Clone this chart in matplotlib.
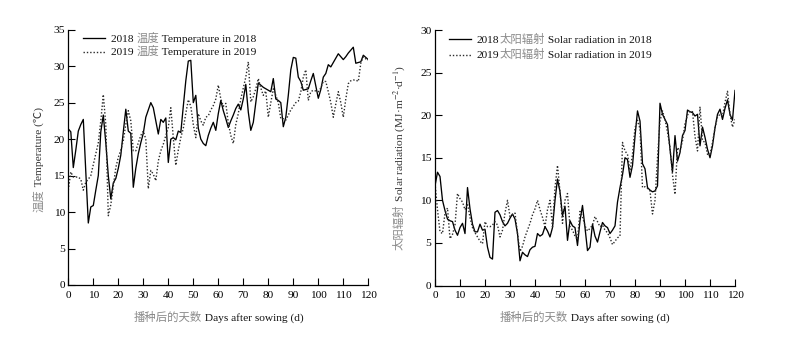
import matplotlib
matplotlib.use("Agg")
import matplotlib.pyplot as plt
import numpy as np
from matplotlib.offsetbox import (HPacker, VPacker, TextArea, DrawingArea,
                                  AnnotationBbox)
from matplotlib.lines import Line2D

plt.rcParams["mathtext.fontset"] = "stix"

# ---------------- data ----------------
days = np.arange(0, 121)

temp_2018 = [
    21.4, 21.0, 16.1, 18.5, 21.1, 22.0, 22.7, 15.5, 8.5, 10.7,
    10.9, 13.0, 15.0, 21.0, 23.3, 19.5, 15.0, 11.8, 14.0, 14.6,
    16.0, 17.8, 21.0, 24.1, 21.1, 20.8, 13.4, 16.0, 18.0, 19.5,
    20.8, 23.0, 24.0, 25.0, 24.3, 22.5, 20.7, 22.7, 22.3, 22.9,
    16.8, 20.0, 20.2, 19.9, 21.1, 20.9, 24.5, 28.0, 30.7, 30.8,
    25.0, 26.0, 21.5, 20.0, 19.4, 19.1, 20.5, 21.5, 22.3, 21.2,
    23.5, 25.3, 23.9, 22.8, 21.6, 22.5, 23.3, 24.2, 24.8, 24.0,
    25.5, 27.5, 23.7, 21.2, 22.3, 25.0, 27.7, 27.4, 27.1, 26.9,
    26.7, 26.5, 28.3, 25.5, 25.3, 25.0, 21.7, 23.0, 26.0, 29.5,
    31.2, 31.1, 28.5, 27.9, 26.7, 26.8, 26.9, 28.0, 29.0, 27.3,
    25.6, 26.8, 28.5, 29.0, 30.2, 29.9, 30.5, 31.1, 31.7, 31.3,
    30.9, 31.3, 31.8, 32.2, 32.6, 30.4, 30.5, 30.6, 31.5, 31.2,
    30.9,
]

temp_2019 = [
    13.0, 15.5, 14.8, 14.8, 14.8, 14.5, 13.0, 14.1, 14.5, 15.0,
    16.5, 18.0, 19.5, 22.5, 26.1, 22.0, 9.5, 11.0, 13.5, 16.1,
    17.5, 18.5, 19.8, 22.0, 23.9, 22.5, 18.4, 18.4, 19.5, 20.5,
    21.1, 20.0, 13.2, 15.7, 15.2, 14.3, 17.0, 18.4, 19.3, 20.5,
    21.6, 24.3, 20.2, 16.4, 18.5, 20.2, 21.5, 23.5, 25.4, 24.5,
    22.0, 20.2, 23.5, 22.5, 21.9, 23.0, 23.2, 24.0, 24.6, 25.5,
    27.4, 25.5, 24.5, 24.9, 22.2, 20.5, 19.4, 22.0, 23.5, 25.5,
    27.0, 28.5, 30.6, 25.1, 25.8, 26.9, 28.3, 27.0, 26.0, 26.6,
    23.0, 25.0, 26.9, 26.0, 25.0, 22.8, 22.8, 22.6, 23.3, 24.0,
    24.5, 25.0, 25.2, 26.5, 28.5, 29.5, 25.3, 26.5, 26.7, 26.6,
    26.5, 27.0, 27.9, 27.9, 26.5, 25.0, 23.0, 24.8, 26.5, 25.0,
    23.0, 25.5, 27.6, 28.0, 28.1, 28.1, 27.9, 30.4, 31.3, 31.0,
    30.8,
]

rad_2018 = [
    11.7, 13.3, 12.8, 10.0, 8.8, 7.8, 7.6, 7.5, 6.5, 5.9,
    6.8, 7.3, 6.1, 11.5, 9.0, 7.2, 6.3, 6.3, 7.2, 6.5,
    6.6, 4.5, 3.3, 3.1, 8.6, 8.8, 8.3, 7.5, 7.0, 7.3,
    7.9, 8.4, 7.8, 6.1, 2.9, 3.9, 3.6, 3.4, 4.2, 4.5,
    4.6, 6.1, 5.8, 6.0, 6.9, 6.4, 5.7, 6.8, 10.0, 12.5,
    11.0, 8.2, 9.3, 5.3, 7.6, 7.0, 6.8, 4.7, 7.6, 9.4,
    6.8, 4.1, 4.5, 7.2, 5.8, 5.1, 6.3, 7.4, 7.0, 6.8,
    6.1, 6.5, 7.0, 9.8, 11.5, 13.0, 15.0, 14.8, 12.7, 14.1,
    17.5, 20.5, 19.3, 14.3, 13.7, 11.5, 11.2, 11.0, 11.1, 11.7,
    21.4, 20.1, 19.5, 18.9, 16.0, 13.3, 17.6, 14.6, 15.6, 17.6,
    18.2, 20.6, 20.4, 20.3, 19.9, 20.1, 16.4, 18.6, 17.4, 16.0,
    15.0, 16.4, 18.5, 20.1, 20.7, 19.5, 20.8, 21.8, 20.1, 19.4,
    22.9,
]

rad_2019 = [
    12.0, 8.9, 6.3, 6.1, 8.5, 9.1, 5.5, 6.0, 7.1, 10.8,
    10.2, 9.8, 8.9, 9.6, 8.0, 6.8, 6.2, 5.7, 5.2, 4.9,
    7.5, 6.9, 6.9, 7.1, 7.5, 7.1, 5.7, 6.5, 8.5, 10.0,
    8.1, 8.3, 8.5, 6.1, 4.0, 4.6, 5.7, 6.5, 7.3, 8.3,
    9.0, 10.0, 8.9, 8.0, 6.9, 8.9, 10.0, 6.9, 11.5, 14.1,
    11.0, 7.3, 10.0, 10.8, 6.9, 6.5, 5.8, 5.4, 8.7, 8.1,
    7.0, 6.4, 6.7, 7.1, 8.1, 7.5, 6.9, 7.1, 6.5, 6.2,
    5.6, 4.8, 5.2, 5.6, 5.8, 16.8, 15.8, 15.4, 13.5, 15.4,
    18.5, 19.4, 18.4, 11.5, 11.6, 11.4, 11.1, 8.4, 10.0, 15.0,
    19.3, 20.5, 19.5, 18.0, 16.2, 13.0, 10.7, 16.2, 15.8, 17.0,
    19.0, 20.0, 20.5, 20.4, 17.5, 15.8, 21.0, 17.0, 16.8, 15.4,
    15.4, 16.8, 18.5, 19.8, 20.1, 19.9, 21.5, 22.8, 20.1, 18.6,
    19.5,
]

x_ticks = list(range(0, 121, 10))
temp_ticks = list(range(0, 36, 5))
rad_ticks = list(range(0, 31, 5))

# ---------------- style ----------------
SERIF = ["Liberation Serif", "Noto Sans CJK SC"]
CJK = ["Noto Sans CJK SC", "Liberation Serif"]
FS = 8.2
CJK_GREY = "#8a8a8a"
DARK = "#111111"

W, H = 786, 347
fig = plt.figure(figsize=(W / 100, H / 100), dpi=100)
fig.patch.set_facecolor("white")

ax1 = fig.add_axes([68.3 / W, 1 - 285.0 / H, 300 / W, (285.0 - 29.7) / H])
ax2 = fig.add_axes([435.0 / W, 1 - 285.5 / H, 300 / W, (285.5 - 30.0) / H])

solid_kw = dict(color="black", lw=0.95, linestyle="-")
dot_kw = dict(color="#2a2a2a", lw=1.0, linestyle=(0, (1.0, 1.4)))

ax1.plot(days, temp_2018, **solid_kw)
ax1.plot(days, temp_2019, **dot_kw)
ax2.plot(days, rad_2018, **solid_kw)
ax2.plot(days, rad_2019, **dot_kw)

for ax, yt in ((ax1, temp_ticks), (ax2, rad_ticks)):
    ax.set_xlim(0, 120)
    ax.set_ylim(yt[0], yt[-1])
    ax.set_xticks(x_ticks)
    ax.set_yticks(yt)
    for s in ("top", "right"):
        ax.spines[s].set_visible(False)
    for s in ("left", "bottom"):
        ax.spines[s].set_linewidth(0.9)
    ax.tick_params(direction="in", length=5, width=0.8, labelsize=FS,
                   colors="black")
    ax.tick_params(axis="x", pad=4)
    ax.tick_params(axis="y", pad=2.5)
    for lab in ax.get_xticklabels() + ax.get_yticklabels():
        lab.set_fontfamily(SERIF)


def rich_text_box(parts):
    """Horizontal run of differently coloured text pieces on a shared baseline."""
    boxes = [TextArea(t, textprops=dict(color=c, fontfamily=f, fontsize=FS))
             for t, c, f in parts]
    return HPacker(children=boxes, align="baseline", pad=0, sep=0)


def legend_box(rows, handle_len=16, sep_y=2.5):
    row_boxes = []
    for style, parts in rows:
        da = DrawingArea(handle_len, 6, 0, 0)
        da.add_artist(Line2D([0, handle_len], [3, 3], **style))
        row_boxes.append(HPacker(children=[da, rich_text_box(parts)],
                                 align="center", pad=0, sep=4))
    return VPacker(children=row_boxes, align="left", pad=0, sep=sep_y)


def place(box, x_px, y_px, align=(0.0, 0.5)):
    ab = AnnotationBbox(box, (x_px / W, 1 - y_px / H), xycoords="figure fraction",
                        box_alignment=align, frameon=False, pad=0)
    fig.add_artist(ab)


# legends
leg1 = legend_box([
    (solid_kw, [("2018 ", DARK, SERIF), ("温度", CJK_GREY, CJK),
                (" Temperature in 2018", DARK, SERIF)]),
    (dot_kw, [("2019 ", DARK, SERIF), ("温度", CJK_GREY, CJK),
              (" Temperature in 2019", DARK, SERIF)]),
], sep_y=1.5)
place(leg1, 83, 45)

leg2 = legend_box([
    (solid_kw, [("2018", DARK, SERIF), ("太阳辐射", CJK_GREY, CJK),
                (" Solar radiation in 2018", DARK, SERIF)]),
    (dot_kw, [("2019", DARK, SERIF), ("太阳辐射", CJK_GREY, CJK),
              (" Solar radiation in 2019", DARK, SERIF)]),
], sep_y=3.0)
place(leg2, 449, 47)

# x-axis titles
for cx in (218.3, 585.0):
    place(rich_text_box([("播种后的天数", CJK_GREY, CJK),
                         (" Days after sowing (d)", DARK, SERIF)]),
          cx, 317, align=(0.5, 0.5))


def vertical_label(ax, parts, x_px, y_bottom_px):
    """Rotated label built from pieces stacked bottom-to-top."""
    prev = None
    for text, color, fam in parts:
        kw = dict(rotation=90, color=color, fontfamily=fam, fontsize=FS,
                  ha="center", va="bottom")
        if prev is None:
            prev = fig.text(x_px / W, 1 - y_bottom_px / H, text, **kw)
        else:
            prev = ax.annotate(text, xy=(0.5, 1.0), xycoords=prev,
                               annotation_clip=False, **kw)


vertical_label(ax1, [("温度", CJK_GREY, CJK),
                     (" Temperature (℃)", "#333333", SERIF)], 39, 212)
vertical_label(ax2, [("太阳辐射", CJK_GREY, CJK),
                     (" Solar radiation (MJ·m$^{-2}$·d$^{-1}$)", "#333333", SERIF)],
               399, 250)

fig.savefig("out.png", dpi=100, facecolor="white")
